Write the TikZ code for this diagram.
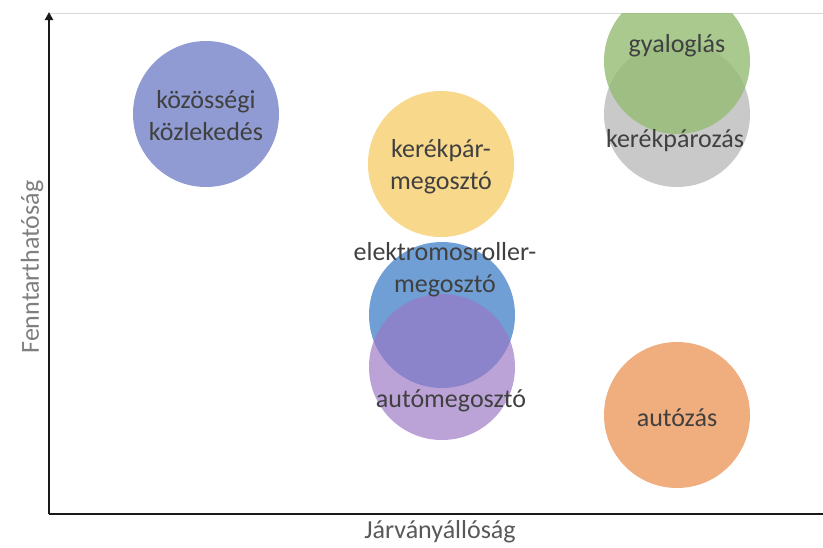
\documentclass[tikz,border=0pt]{standalone}
\usepackage{fontspec}
\setmainfont{Carlito}
\usetikzlibrary{arrows.meta}
\definecolor{txt}{HTML}{404040}
\definecolor{cKozos}{HTML}{8F9BD2}
\definecolor{cYellow}{HTML}{F8D88A}
\definecolor{cGreen}{HTML}{94BC73}
\definecolor{cGray}{HTML}{C9C9C9}
\definecolor{cBlue}{HTML}{6F9FD5}
\definecolor{cPurple}{HTML}{9B78C6}
\definecolor{cOrange}{HTML}{F0AD7E}
\definecolor{axlab}{HTML}{595959}
\definecolor{aylab}{HTML}{7F7F7F}
\begin{document}
\begin{tikzpicture}[x=1pt,y=-1pt,
  bubble/.style={circle, minimum size=146pt, inner sep=0pt, draw=none},
  lbl/.style={text=txt, font=\fontsize{26}{32}\selectfont, align=center, inner sep=0pt},
  axis/.style={line width=2.6pt, draw=black!90}
]
\useasboundingbox (0,0) rectangle (823,547);
\fill[white] (0,0) rectangle (823,547);
% top border
\draw[line width=1pt, draw=black!15] (49,13) -- (823,13);
\begin{scope}
\clip (49,13) rectangle (823,514);
\node[bubble, fill=cKozos] (bKozos) at (206,114) {};
\node[bubble, fill=cYellow] (bBike) at (441,164) {};
\node[bubble, fill=cGray] (bCycle) at (677,114) {};
\node[bubble, fill=cGreen, fill opacity=0.8] (bWalk) at (677,61) {};
\node[bubble, fill=cBlue] (bScooter) at (442,315) {};
\node[bubble, fill=cPurple, fill opacity=0.68] (bCarShare) at (442,367) {};
\node[bubble, fill=cOrange] (bCar) at (677,415) {};
\end{scope}
% labels
\node[lbl] (tKozos) at (206,116) {közösségi\\közlekedés};
\node[lbl] (tBike) at (441,167) {kerékpár-\\megosztó};
\node[lbl] (tWalk) at (677,46) {gyaloglás};
\node[lbl] (tCycle) at (675,141) {kerékpározás};
\node[lbl] (tScooter) at (445,270) {elektromosroller-\\megosztó};
\node[lbl] (tCarShare) at (451,401) {autómegosztó};
\node[lbl] (tCar) at (677,418) {autózás};
% axes
\coordinate (O) at (49,514);
\coordinate (Ytop) at (49,12);
\coordinate (Xend) at (823,514);
\draw[axis, -{Triangle[length=8pt,width=8pt]}] (O) -- (Ytop);
\draw[axis] (O) -- (Xend);
\node[text=axlab, font=\fontsize{26}{30}\selectfont, inner sep=0pt] (xlab) at (440,532) {Járványállóság};
\node[text=aylab, font=\fontsize{26}{30}\selectfont, inner sep=0pt, rotate=90] (ylab) at (32,267) {Fenntarthatóság};
\end{tikzpicture}
\end{document}
